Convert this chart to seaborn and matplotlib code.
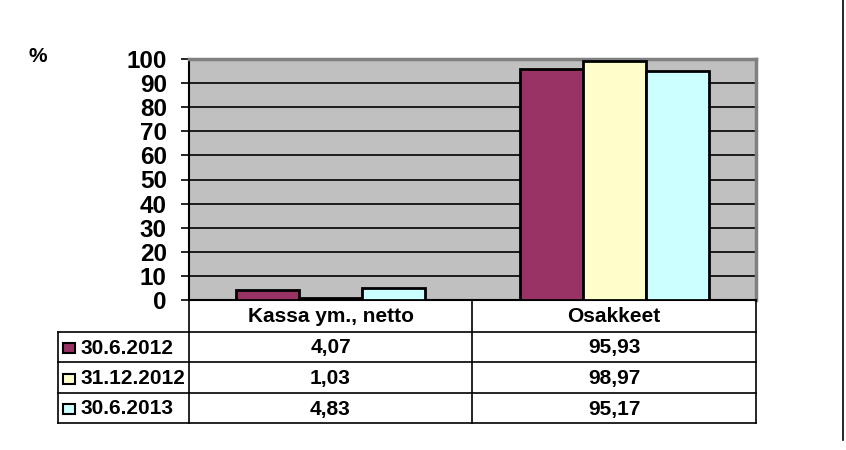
import matplotlib
matplotlib.use("Agg")
import matplotlib.pyplot as plt
from matplotlib.lines import Line2D
from matplotlib.patches import Rectangle
import pandas as pd
import seaborn as sns

# Data
categories = ["Kassa ym., netto", "Osakkeet"]
dates = ["30.6.2012", "31.12.2012", "30.6.2013"]
values_2012_06 = [4.07, 95.93]
values_2012_12 = [1.03, 98.97]
values_2013_06 = [4.83, 95.17]
colors = ["#993366", "#FFFFCC", "#CCFFFF"]

series = [values_2012_06, values_2012_12, values_2013_06]
rows = []
for d, vals in zip(dates, series):
    for c, v in zip(categories, vals):
        rows.append({"Kategoria": c, "Päivä": d, "Arvo": v})
df = pd.DataFrame(rows)

plt.rcParams["font.family"] = ["Liberation Sans", "DejaVu Sans"]
plt.rcParams["font.weight"] = "bold"

W, H = 846, 450
fig = plt.figure(figsize=(W / 100, H / 100), dpi=100)


def fx(x):
    return x / W


def fy(y):
    return 1 - y / H


# Plot area
left, right, top, bottom = 189, 756, 59, 300
ax = fig.add_axes([fx(left), fy(bottom), fx(right - left), fy(top) - fy(bottom)])
ax.set_facecolor("#C0C0C0")

sns.barplot(
    data=df, x="Kategoria", y="Arvo", hue="Päivä",
    order=categories, hue_order=dates, palette=colors,
    width=0.667, gap=0, edgecolor="black", linewidth=2,
    saturation=1, legend=False, ax=ax, zorder=3,
)

ax.set_ylim(0, 100)
ax.set_xlim(-0.5, 1.5)
ax.set_yticks(range(0, 101, 10))
ax.yaxis.grid(True, color="black", linewidth=1.2, zorder=0)
ax.set_axisbelow(True)
ax.tick_params(axis="y", length=6, width=1.2, pad=10, labelsize=17.5)
for lab in ax.get_yticklabels():
    lab.set_fontweight("bold")
ax.set_xticks([])
ax.set_xlabel("")
ax.set_ylabel("")
for s in ["top", "right"]:
    ax.spines[s].set_color("#808080")
    ax.spines[s].set_linewidth(2.5)
ax.spines["left"].set_color("black")
ax.spines["left"].set_linewidth(1.5)
ax.spines["bottom"].set_color("black")
ax.spines["bottom"].set_linewidth(1.5)

fig.text(fx(38), fy(57), "%", fontsize=15, fontweight="bold", ha="center", va="center")

# Data table
col_x = [left, 472, right]
row_y = [bottom, 332, 362, 393, 423]
tleft = 58
lw = 1.2
fs = 15


def hline(x0, x1, y):
    fig.add_artist(Line2D([fx(x0), fx(x1)], [fy(y), fy(y)], color="black", linewidth=lw))


def vline(x, y0, y1):
    fig.add_artist(Line2D([fx(x), fx(x)], [fy(y0), fy(y1)], color="black", linewidth=lw))


for y in row_y[1:]:
    hline(tleft, right, y)
for x in col_x:
    vline(x, bottom, row_y[-1])
vline(tleft, row_y[1], row_y[-1])

for i, c in enumerate(categories):
    cx = (col_x[i] + col_x[i + 1]) / 2
    fig.text(fx(cx), fy((row_y[0] + row_y[1]) / 2 + 1), c, fontsize=fs,
             fontweight="bold", ha="center", va="center")

for r, (d, vals, col) in enumerate(zip(dates, series, colors)):
    cy = (row_y[r + 1] + row_y[r + 2]) / 2 + 1
    fig.add_artist(Rectangle((fx(63), fy(cy + 5)), fx(12), fy(cy - 5) - fy(cy + 5),
                             facecolor=col, edgecolor="black", linewidth=1.5))
    fig.text(fx(80), fy(cy), d, fontsize=fs, fontweight="bold", ha="left", va="center")
    for i, v in enumerate(vals):
        cx = (col_x[i] + col_x[i + 1]) / 2
        fig.text(fx(cx), fy(cy), f"{v:.2f}".replace(".", ","), fontsize=fs,
                 fontweight="bold", ha="center", va="center")

# Right frame edge
vline(843, 0, 440)

fig.savefig("out.png", dpi=100, facecolor="white")
